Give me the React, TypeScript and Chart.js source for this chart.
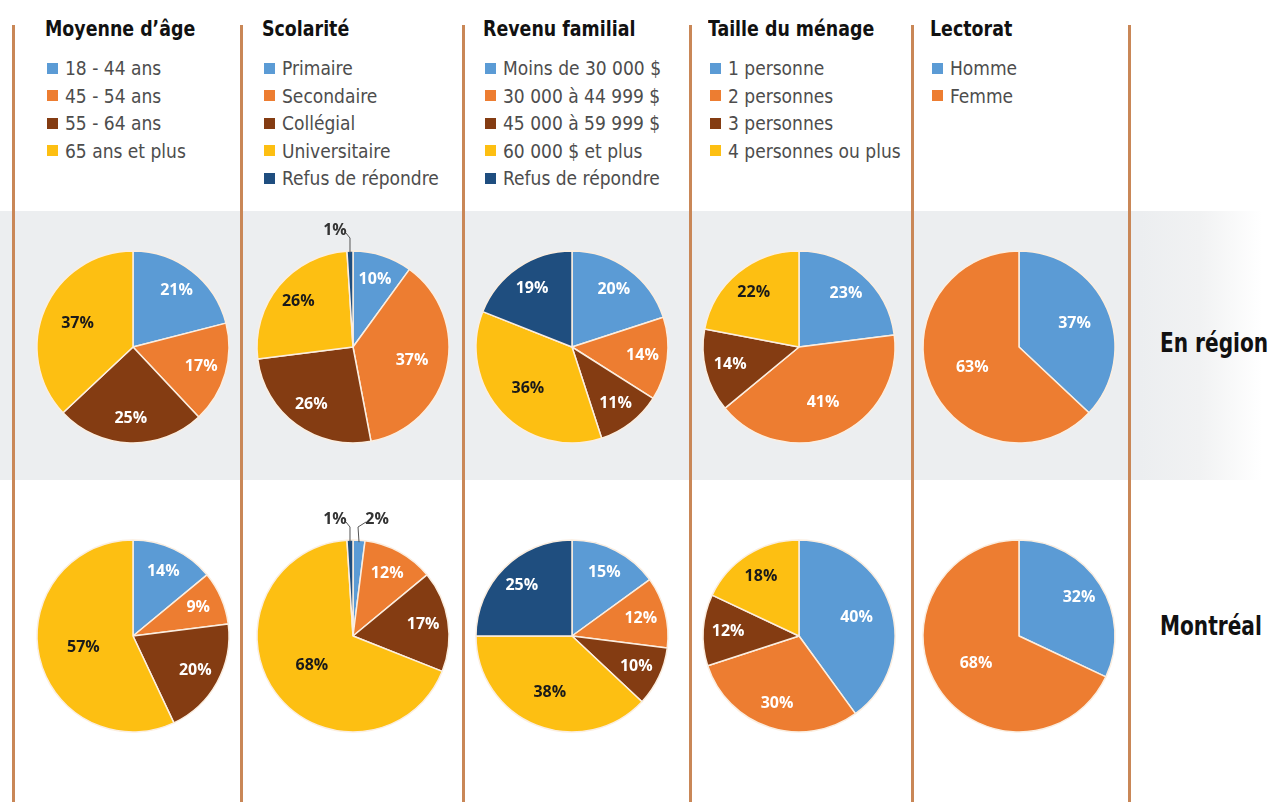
import React, { useEffect, useRef } from "react";
import { Chart, registerables } from "chart.js";

Chart.register(...registerables);

// ---------- DATA ----------
const groupTitles = ["Moyenne d’âge", "Scolarité", "Revenu familial", "Taille du ménage", "Lectorat"];
const rowLabels = ["En région", "Montréal"];

const ageCategories = ["18 - 44 ans", "45 - 54 ans", "55 - 64 ans", "65 ans et plus"];
const ageRegion = [21, 17, 25, 37];
const ageMontreal = [14, 9, 20, 57];

const scolCategories = ["Primaire", "Secondaire", "Collégial", "Universitaire", "Refus de répondre"];
const scolRegion = [10, 37, 26, 26, 1];
const scolMontreal = [2, 12, 17, 68, 1];

const revenuCategories = ["Moins de 30 000 $", "30 000 à 44 999 $", "45 000 à 59 999 $", "60 000 $ et plus", "Refus de répondre"];
const revenuRegion = [20, 14, 11, 36, 19];
const revenuMontreal = [15, 12, 10, 38, 25];

const tailleCategories = ["1 personne", "2 personnes", "3 personnes", "4 personnes ou plus"];
const tailleRegion = [23, 41, 14, 22];
const tailleMontreal = [40, 30, 12, 18];

const lectoratCategories = ["Homme", "Femme"];
const lectoratRegion = [37, 63];
const lectoratMontreal = [32, 68];

const palette = ["#5b9bd5", "#ed7d31", "#843c12", "#fdbf12", "#1f4e7f"];
const YELLOW = "#fdbf12";

const groups = [
  { cats: ageCategories, rows: [ageRegion, ageMontreal] },
  { cats: scolCategories, rows: [scolRegion, scolMontreal] },
  { cats: revenuCategories, rows: [revenuRegion, revenuMontreal] },
  { cats: tailleCategories, rows: [tailleRegion, tailleMontreal] },
  { cats: lectoratCategories, rows: [lectoratRegion, lectoratMontreal] },
];

// ---------- LAYOUT ----------
const FONT = '"DejaVu Sans", sans-serif';
const COND = '"DejaVu Sans Condensed", "DejaVu Sans", sans-serif';
const colLegendX = [45, 262, 483, 708, 930];
const pieCX = [133, 353, 572, 799, 1019];
const pieCY = [347, 636];
const lineX = [13, 241, 463, 690, 912, 1129];
const CW = 220;
const CH = 280;
const R = 96;

const sliceLabelPlugin = {
  id: "sliceLabels",
  afterDatasetsDraw(chart: any) {
    const ctx = chart.ctx;
    const meta = chart.getDatasetMeta(0);
    const ds = chart.data.datasets[0];
    ctx.save();
    ctx.textAlign = "center";
    ctx.textBaseline = "middle";
    meta.data.forEach((arc: any, i: number) => {
      const v = ds.data[i];
      const p = arc.getProps(["x", "y", "startAngle", "endAngle", "outerRadius"], true);
      const mid = (p.startAngle + p.endAngle) / 2;
      const txt = v + "%";
      ctx.font = 'bold 16px "Open Sans", sans-serif';
      if (v < 5) {
        const sx = p.x + Math.cos(mid) * p.outerRadius;
        const sy = p.y + Math.sin(mid) * p.outerRadius;
        const left = Math.cos(mid) < 0;
        const lx = sx + (left ? -15 : 18);
        const ly = p.y - p.outerRadius - 21;
        ctx.strokeStyle = "#555";
        ctx.lineWidth = 1;
        ctx.beginPath();
        ctx.moveTo(sx, sy + 2);
        ctx.lineTo(sx + (left ? 0 : -1), ly + 8);
        ctx.lineTo(lx + (left ? 11 : -11), ly + 3);
        ctx.stroke();
        ctx.fillStyle = "#333";
        ctx.fillText(txt, lx, ly);
        return;
      }
      const f = v >= 50 ? 0.53 : v >= 35 ? 0.63 : 0.74;
      const lx = p.x + Math.cos(mid) * p.outerRadius * f;
      const ly = p.y + Math.sin(mid) * p.outerRadius * f;
      const bg = ds.backgroundColor[i];
      ctx.fillStyle = bg === YELLOW ? "#1a1a1a" : "#ffffff";
      ctx.fillText(txt, lx, ly);
    });
    ctx.restore();
  },
};

function PieCanvas({ values, labels, left, top }: { values: number[]; labels: string[]; left: number; top: number }) {
  const ref = useRef<HTMLCanvasElement | null>(null);
  useEffect(() => {
    if (!ref.current) return;
    const chart = new Chart(ref.current, {
      type: "pie",
      data: {
        labels,
        datasets: [
          {
            data: values,
            backgroundColor: palette.slice(0, values.length),
            borderColor: "#fbeee0",
            borderWidth: 1.5,
          },
        ],
      },
      options: {
        animation: false,
        responsive: false,
        radius: R,
        events: [],
        layout: { padding: 0 },
        plugins: { legend: { display: false }, tooltip: { enabled: false } },
      } as any,
      plugins: [sliceLabelPlugin as any],
    });
    return () => chart.destroy();
  }, []);
  return (
    <canvas
      ref={ref}
      width={CW}
      height={CH}
      style={{ position: "absolute", left, top, width: CW, height: CH }}
    />
  );
}

function Squeezed({ text, size, scale }: { text: string; size: number; scale: number }) {
  return (
    <span
      style={{
        display: "inline-block",
        fontFamily: COND,
        fontSize: size,
        fontWeight: 700,
        color: "#111",
        whiteSpace: "nowrap",
        transform: `scale(${scale}, 1)`,
        transformOrigin: "0 50%",
      }}
    >
      {text}
    </span>
  );
}

export default function App() {
  return (
    <div
      style={{
        position: "absolute",
        left: 0,
        top: 0,
        width: 1269,
        height: 802,
        background: "#ffffff",
        overflow: "hidden",
        fontFamily: FONT,
      }}
    >
      {/* grey band */}
      <div
        style={{
          position: "absolute",
          left: 0,
          top: 211,
          width: 1269,
          height: 269,
          background: "linear-gradient(to right, #eceef0 0px, #eceef0 1140px, #f1f2f3 1200px, #ffffff 1262px)",
        }}
      />
      {/* vertical lines */}
      {lineX.map((x, i) => (
        <div
          key={"l" + i}
          style={{ position: "absolute", left: x - 1.5, top: 25, width: 3, height: 780, background: "#c98757" }}
        />
      ))}
      {/* legends */}
      {groups.map((g, gi) => (
        <div key={"g" + gi}>
          <div style={{ position: "absolute", left: colLegendX[gi], top: 15, lineHeight: "28px", width: 220 }}>
            <Squeezed text={groupTitles[gi]} size={22} scale={0.88} />
          </div>
          {g.cats.map((c, ci) => (
            <div
              key={"c" + ci}
              style={{
                position: "absolute",
                left: colLegendX[gi] + 2,
                top: 56 + ci * 27.5,
                height: 24,
                display: "flex",
                alignItems: "center",
                whiteSpace: "nowrap",
              }}
            >
              <span style={{ display: "inline-block", width: 11, height: 11, background: palette[ci], marginRight: 7 }} />
              <span style={{ fontSize: 19, color: "#4d4d4d", fontStretch: "condensed" }}>{c}</span>
            </div>
          ))}
        </div>
      ))}
      {/* pies */}
      {groups.map((g, gi) =>
        g.rows.map((vals, ri) => (
          <PieCanvas
            key={"p" + gi + "-" + ri}
            values={vals}
            labels={g.cats}
            left={pieCX[gi] - CW / 2}
            top={pieCY[ri] - CH / 2}
          />
        ))
      )}
      {/* row labels */}
      {rowLabels.map((t, i) => (
        <div
          key={"r" + i}
          style={{ position: "absolute", left: 1160, top: [326, 609][i], lineHeight: "34px", width: 140 }}
        >
          <Squeezed text={t} size={26} scale={0.86} />
        </div>
      ))}
    </div>
  );
}
